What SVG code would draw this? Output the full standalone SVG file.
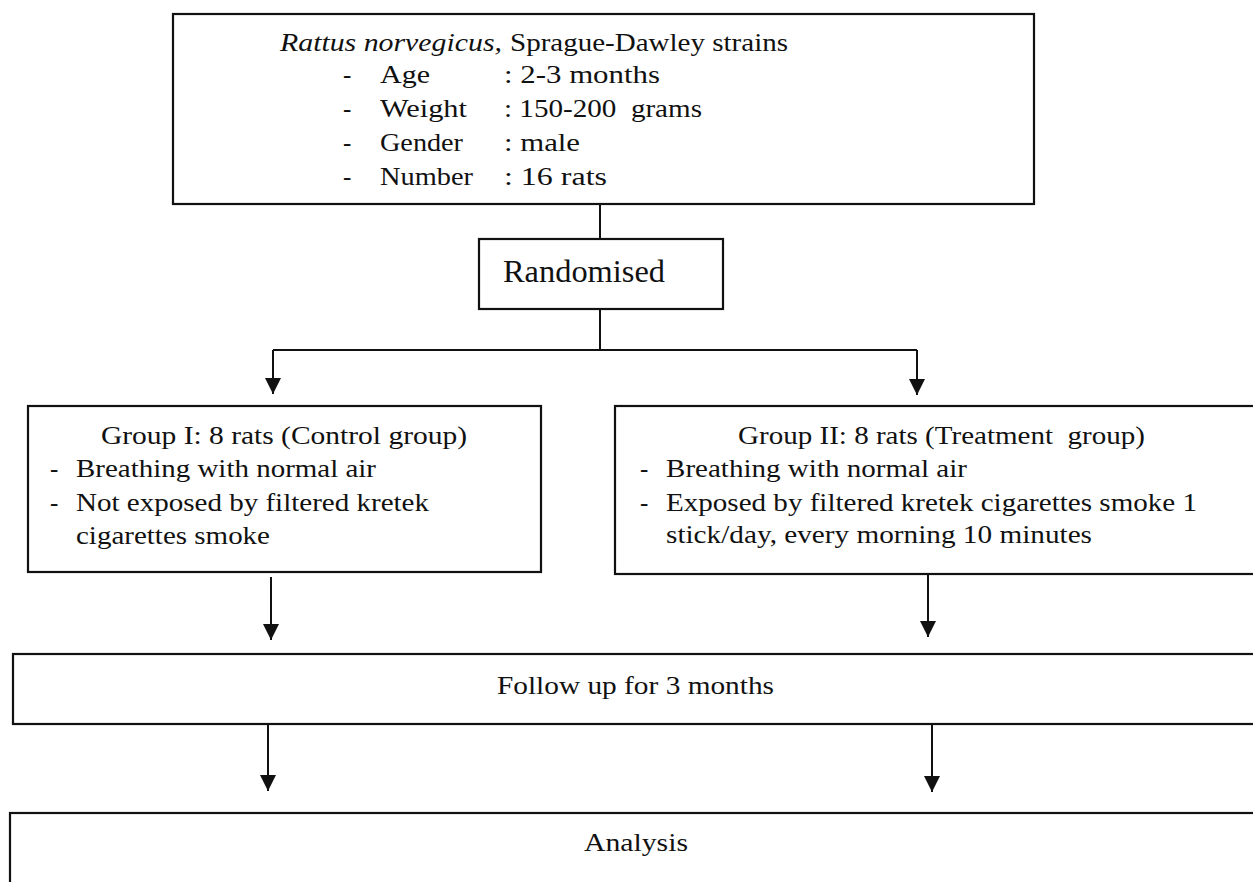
<svg xmlns="http://www.w3.org/2000/svg" width="1253" height="882" viewBox="0 0 1253 882">
<style>
  .box { fill: #fff; stroke: #111; stroke-width: 2.2; }
  .t { font-family: "Liberation Serif", "Times New Roman", serif; font-size: 25px; fill: #111; }
  .it { font-style: italic; }
  .big { font-size: 31px; }
  .conn { fill: none; stroke: #111; stroke-width: 2; }
</style>
<defs>
  <marker id="arrow" markerUnits="userSpaceOnUse" viewBox="0 0 16 16" refX="16" refY="8" markerWidth="16" markerHeight="16" orient="auto">
    <path d="M0,0 L16,8 L0,16 z" fill="#111"/>
  </marker>
</defs>
<rect width="1253" height="882" fill="#fff"/>

<g id="connectors">
  <path class="conn" d="M600,204 L600,239"/>
  <path class="conn" d="M600,309 L600,350"/>
  <path class="conn" d="M273,350 L917,350"/>
  <path class="conn" d="M273,350 L273,394" marker-end="url(#arrow)"/>
  <path class="conn" d="M917,350 L917,395" marker-end="url(#arrow)"/>
  <path class="conn" d="M271,577 L271,640" marker-end="url(#arrow)"/>
  <path class="conn" d="M928,574 L928,637" marker-end="url(#arrow)"/>
  <path class="conn" d="M268,724 L268,791" marker-end="url(#arrow)"/>
  <path class="conn" d="M932,724 L932,792" marker-end="url(#arrow)"/>
</g>

<g id="node-subjects">
  <rect class="box" x="173" y="14" width="861" height="190"/>
  <text class="t it" x="280" y="51" textLength="222" lengthAdjust="spacingAndGlyphs">Rattus norvegicus,</text>
  <text class="t" x="510" y="51" textLength="278" lengthAdjust="spacingAndGlyphs">Sprague-Dawley strains</text>
  <text class="t" x="343" y="83">-</text>
  <text class="t" x="380" y="83" textLength="50" lengthAdjust="spacingAndGlyphs">Age</text>
  <text class="t" x="504" y="83" textLength="156" lengthAdjust="spacingAndGlyphs">: 2-3 months</text>
  <text class="t" x="343" y="117">-</text>
  <text class="t" x="380" y="117" textLength="87" lengthAdjust="spacingAndGlyphs">Weight</text>
  <text class="t" x="504" y="117" textLength="198" lengthAdjust="spacingAndGlyphs" xml:space="preserve">: 150-200  grams</text>
  <text class="t" x="343" y="151">-</text>
  <text class="t" x="380" y="151" textLength="83" lengthAdjust="spacingAndGlyphs">Gender</text>
  <text class="t" x="504" y="151" textLength="76" lengthAdjust="spacingAndGlyphs">: male</text>
  <text class="t" x="343" y="185">-</text>
  <text class="t" x="380" y="185" textLength="93" lengthAdjust="spacingAndGlyphs">Number</text>
  <text class="t" x="504" y="185" textLength="103" lengthAdjust="spacingAndGlyphs">: 16 rats</text>
</g>

<g id="node-randomised">
  <rect class="box" x="479" y="239" width="244" height="70"/>
  <text class="t big" x="503" y="282" textLength="162" lengthAdjust="spacingAndGlyphs">Randomised</text>
</g>

<g id="node-group1">
  <rect class="box" x="28" y="406" width="513" height="166"/>
  <text class="t" x="101" y="444" textLength="366" lengthAdjust="spacingAndGlyphs">Group I: 8 rats (Control group)</text>
  <text class="t" x="50" y="477">-</text>
  <text class="t" x="76" y="477" textLength="300" lengthAdjust="spacingAndGlyphs">Breathing with normal air</text>
  <text class="t" x="50" y="511">-</text>
  <text class="t" x="76" y="511" textLength="353" lengthAdjust="spacingAndGlyphs">Not exposed by filtered kretek</text>
  <text class="t" x="76" y="544" textLength="194" lengthAdjust="spacingAndGlyphs">cigarettes smoke</text>
</g>

<g id="node-group2">
  <rect class="box" x="615" y="406" width="660" height="168"/>
  <text class="t" x="738" y="444" textLength="407" lengthAdjust="spacingAndGlyphs" xml:space="preserve">Group II: 8 rats (Treatment  group)</text>
  <text class="t" x="640" y="477">-</text>
  <text class="t" x="666" y="477" textLength="301" lengthAdjust="spacingAndGlyphs">Breathing with normal air</text>
  <text class="t" x="640" y="511">-</text>
  <text class="t" x="666" y="511" textLength="531" lengthAdjust="spacingAndGlyphs">Exposed by filtered kretek cigarettes smoke 1</text>
  <text class="t" x="666" y="543" textLength="426" lengthAdjust="spacingAndGlyphs">stick/day, every morning 10 minutes</text>
</g>

<g id="node-followup">
  <rect class="box" x="13" y="654" width="1260" height="70"/>
  <text class="t" x="497" y="694" textLength="277" lengthAdjust="spacingAndGlyphs">Follow up for 3 months</text>
</g>

<g id="node-analysis">
  <rect class="box" x="10" y="813" width="1263" height="90"/>
  <text class="t" x="584" y="851" textLength="104" lengthAdjust="spacingAndGlyphs">Analysis</text>
</g>
</svg>
